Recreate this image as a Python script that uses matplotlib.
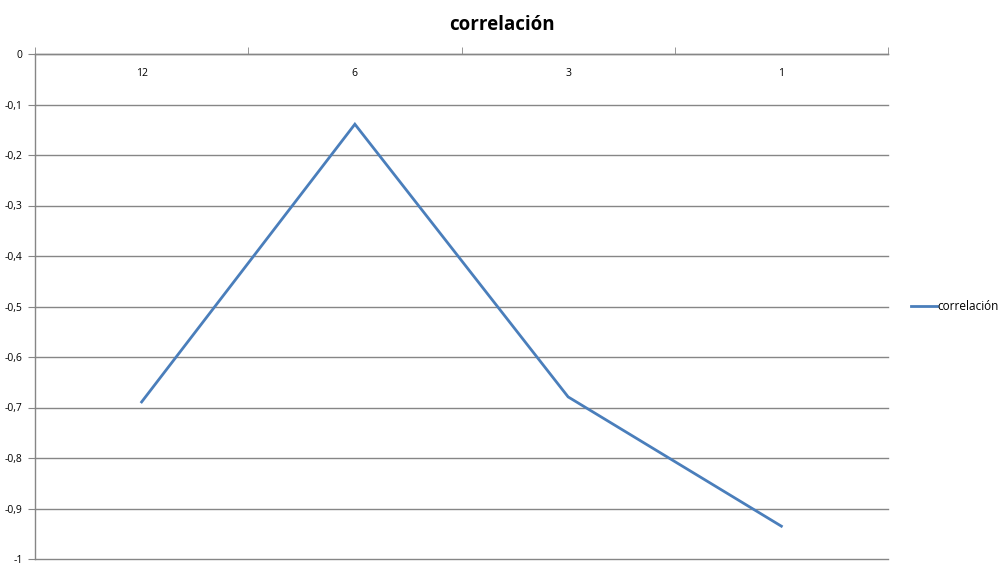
import matplotlib
matplotlib.use("Agg")
import matplotlib.pyplot as plt
from matplotlib.ticker import FixedLocator, FuncFormatter

categories = ["12", "6", "3", "1"]
values = [-0.689, -0.139, -0.679, -0.935]
series_name = "correlación"
title = "correlación"

plt.rcParams['font.family'] = ['Open Sans', 'DejaVu Sans']

fig = plt.figure(figsize=(10.07, 5.72), dpi=100)
ax = fig.add_axes([35/1007, 1-559/572, (888-35)/1007, (559-54)/572])

x = list(range(len(categories)))
line, = ax.plot(x, values, color="#4A7EBB", lw=2.0, solid_joinstyle='miter', label=series_name)

ax.set_xlim(-0.5, len(categories) - 0.5)
ax.set_ylim(-1, 0)
yt = [i / 10 for i in range(-10, 1)]
ax.set_yticks(yt)
ax.yaxis.set_major_formatter(FuncFormatter(lambda v, p: ("%g" % round(v, 1)).replace(".", ",")))
ax.grid(axis='y', color="#868686", lw=1)
ax.set_axisbelow(True)
for gl in ax.get_ygridlines():
    gl.set_clip_on(False)

for s in ["right", "bottom"]:
    ax.spines[s].set_visible(False)
ax.spines["left"].set_color("#868686")
ax.spines["top"].set_color("#868686")
ax.spines["left"].set_linewidth(1)
ax.spines["top"].set_linewidth(1)

ax.tick_params(axis='y', length=5, color="#868686", labelsize=7.5, pad=4)
ax.xaxis.tick_top()
ax.set_xticks(x)
ax.set_xticklabels(categories)
ax.tick_params(axis='x', which='major', length=0, labelsize=7.5, pad=-18, labeltop=True, labelbottom=False)
ax.xaxis.set_minor_locator(FixedLocator([i - 0.5 for i in range(len(categories) + 1)]))
ax.tick_params(axis='x', which='minor', length=5, color="#868686", top=True, bottom=False)

fig.suptitle(title, x=502/1007, y=1-25/572, va='center', fontsize=13.5, fontweight='bold')

fig.legend(handles=[line], loc='center left', bbox_to_anchor=(900/1007, 1-307/572),
           frameon=False, fontsize=8.5, handlelength=2.2, handletextpad=0.1)

fig.savefig("out.png", dpi=100)
